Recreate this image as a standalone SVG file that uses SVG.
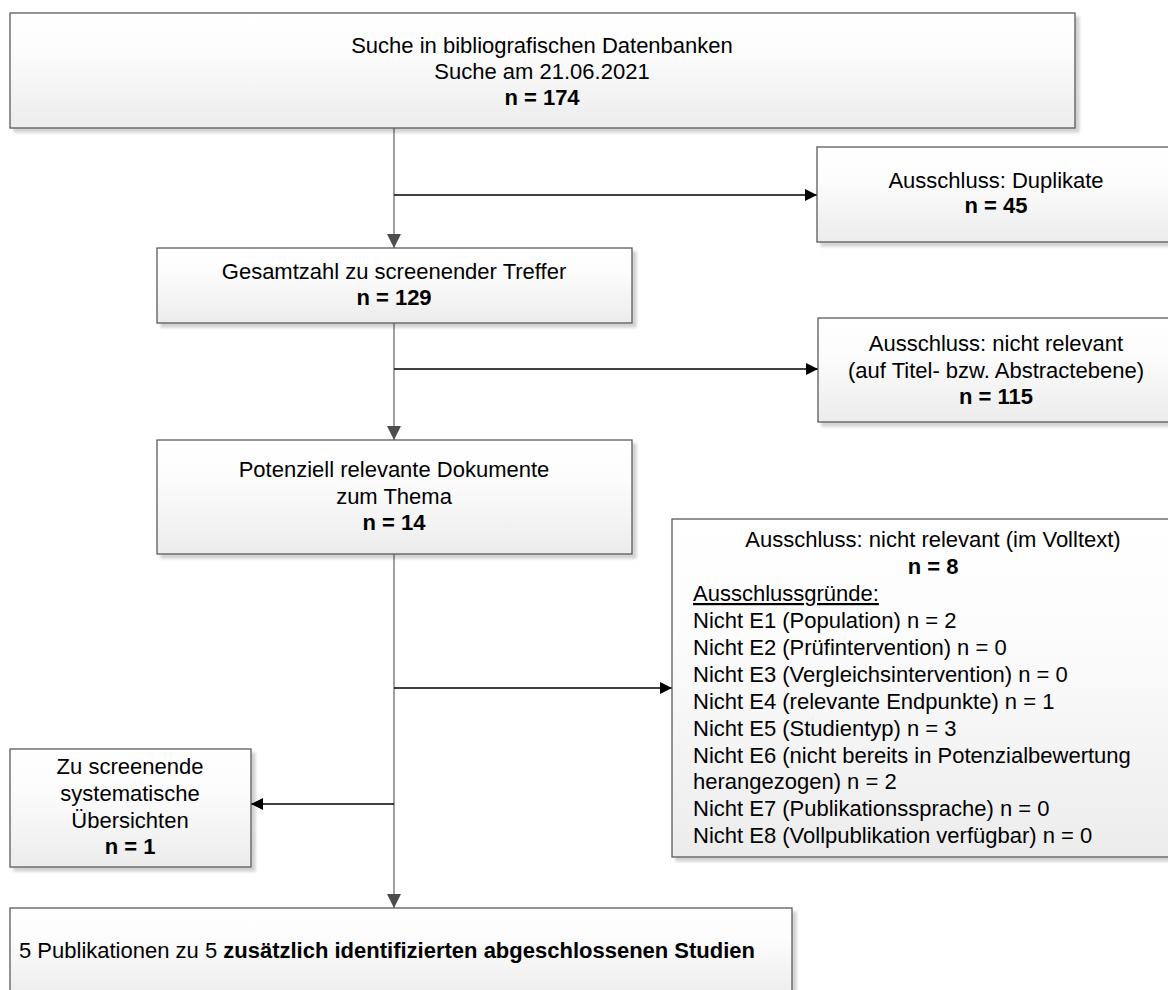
<svg xmlns="http://www.w3.org/2000/svg" width="1168" height="990" viewBox="0 0 1168 990">
<defs>
<linearGradient id="g" x1="0" y1="0" x2="0" y2="1">
<stop offset="0" stop-color="#ffffff"/>
<stop offset="0.35" stop-color="#fcfcfc"/>
<stop offset="1" stop-color="#ececec"/>
</linearGradient>
<filter id="sh" x="-5%" y="-5%" width="115%" height="125%">
<feGaussianBlur in="SourceAlpha" stdDeviation="1.5"/>
<feOffset dx="4" dy="4" result="b"/>
<feFlood flood-color="#000" flood-opacity="0.18"/>
<feComposite in2="b" operator="in"/>
<feMerge><feMergeNode/><feMergeNode in="SourceGraphic"/></feMerge>
</filter>
<marker id="ag" viewBox="0 0 14 14" markerWidth="14" markerHeight="14" refX="14" refY="7" orient="auto" markerUnits="userSpaceOnUse">
<path d="M0,0 L14,7 L0,14 Z" fill="#4d4d4d"/>
</marker>
<marker id="ab" viewBox="0 0 12 12" markerWidth="12" markerHeight="12" refX="12" refY="6" orient="auto" markerUnits="userSpaceOnUse">
<path d="M0,0 L12,6 L0,12 Z" fill="#000"/>
</marker>
</defs>
<style>
.box{fill:url(#g);stroke:#5a5a5a;stroke-width:1.3;filter:url(#sh)}
text{font-family:"Liberation Sans",Arial,sans-serif;font-size:22px;fill:#000}
.c{text-anchor:middle}
.b{font-weight:bold}
.v{stroke:#6e6e6e;stroke-width:1.3;fill:none}
.h{stroke:#000;stroke-width:1.5;fill:none}
</style>
<g id="connectors">
<line class="v" x1="394" y1="128" x2="394" y2="248" marker-end="url(#ag)"/>
<line class="h" x1="394" y1="195" x2="817" y2="195" marker-end="url(#ab)"/>
<line class="v" x1="394" y1="323" x2="394" y2="440" marker-end="url(#ag)"/>
<line class="h" x1="394" y1="369" x2="818" y2="369" marker-end="url(#ab)"/>
<line class="v" x1="394" y1="554" x2="394" y2="908" marker-end="url(#ag)"/>
<line class="h" x1="394" y1="688" x2="672" y2="688" marker-end="url(#ab)"/>
<line class="h" x1="394" y1="804" x2="251" y2="804" marker-end="url(#ab)"/>
</g>
<g id="n1">
<rect class="box" x="10" y="13" width="1065" height="115"/>
<text class="c" x="542" y="53">Suche in bibliografischen Datenbanken</text>
<text class="c" x="542" y="79">Suche am 21.06.2021</text>
<text class="c b" x="542" y="105">n = 174</text>
</g>
<g id="n2">
<rect class="box" x="817" y="147" width="360" height="95"/>
<text class="c" x="996" y="188">Ausschluss: Duplikate</text>
<text class="c b" x="996" y="213">n = 45</text>
</g>
<g id="n3">
<rect class="box" x="157" y="248" width="475" height="75"/>
<text class="c" x="394" y="279">Gesamtzahl zu screenender Treffer</text>
<text class="c b" x="394" y="305">n = 129</text>
</g>
<g id="n4">
<rect class="box" x="818" y="318" width="360" height="104"/>
<text class="c" x="996" y="351">Ausschluss: nicht relevant</text>
<text class="c" x="996" y="378">(auf Titel- bzw. Abstractebene)</text>
<text class="c b" x="996" y="404">n = 115</text>
</g>
<g id="n5">
<rect class="box" x="157" y="440" width="475" height="114"/>
<text class="c" x="394" y="477">Potenziell relevante Dokumente</text>
<text class="c" x="394" y="504">zum Thema</text>
<text class="c b" x="394" y="530">n = 14</text>
</g>
<g id="n6">
<rect class="box" x="672" y="519" width="520" height="338"/>
<text class="c" x="933" y="547">Ausschluss: nicht relevant (im Volltext)</text>
<text class="c b" x="933" y="574">n = 8</text>
<text x="693" y="601" text-decoration="underline">Ausschlussgründe:</text>
<text x="693" y="628">Nicht E1 (Population) n = 2</text>
<text x="693" y="655">Nicht E2 (Prüfintervention) n = 0</text>
<text x="693" y="682">Nicht E3 (Vergleichsintervention) n = 0</text>
<text x="693" y="709">Nicht E4 (relevante Endpunkte) n = 1</text>
<text x="693" y="736">Nicht E5 (Studientyp) n = 3</text>
<text x="693" y="763">Nicht E6 (nicht bereits in Potenzialbewertung</text>
<text x="693" y="789">herangezogen) n = 2</text>
<text x="693" y="816">Nicht E7 (Publikationssprache) n = 0</text>
<text x="693" y="843">Nicht E8 (Vollpublikation verfügbar) n = 0</text>
</g>
<g id="n7">
<rect class="box" x="10" y="749" width="241" height="118"/>
<text class="c" x="130" y="774">Zu screenende</text>
<text class="c" x="130" y="801">systematische</text>
<text class="c" x="130" y="828">Übersichten</text>
<text class="c b" x="130" y="854">n = 1</text>
</g>
<g id="n8">
<rect class="box" x="10" y="908" width="782" height="90"/>
<text x="19" y="958">5 Publikationen zu 5 <tspan class="b">zusätzlich identifizierten abgeschlossenen Studien</tspan></text>
</g>
</svg>
